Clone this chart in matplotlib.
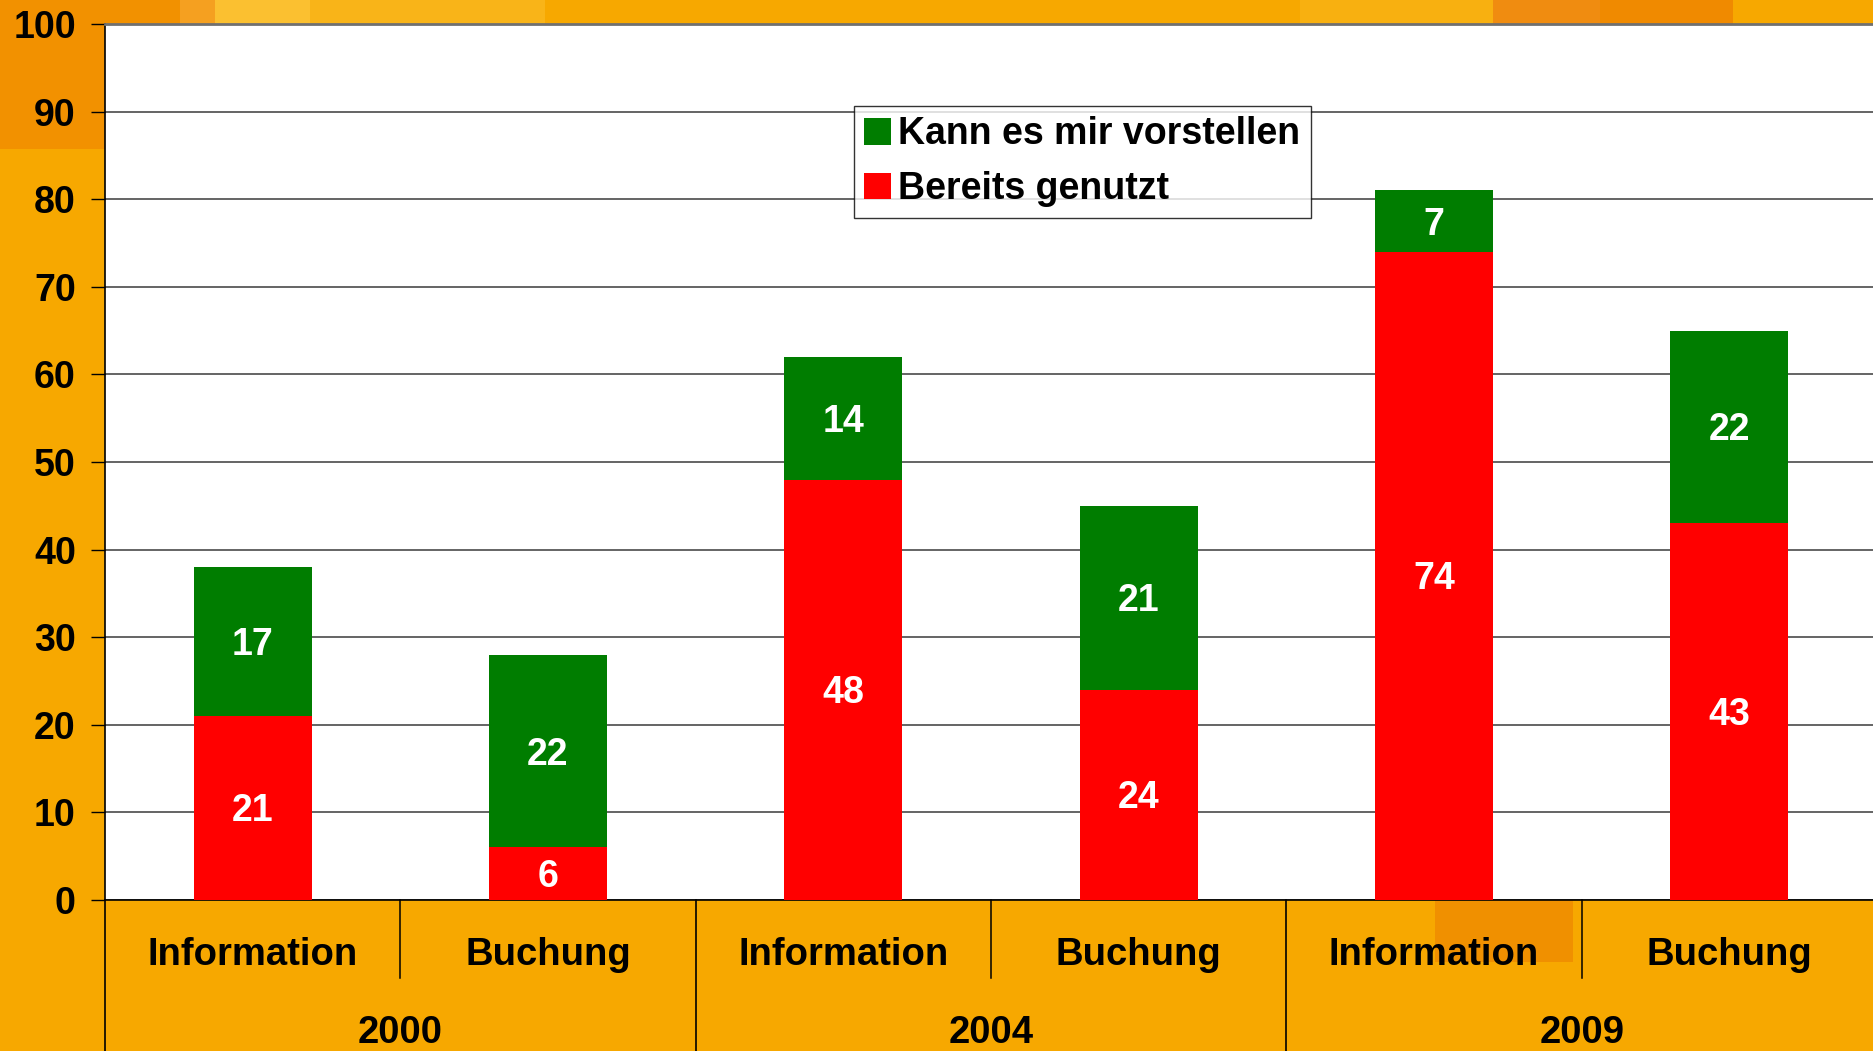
import matplotlib
matplotlib.use("Agg")
import matplotlib.pyplot as plt
from matplotlib.patches import Rectangle, Patch
from matplotlib.transforms import blended_transform_factory

years = ["2000", "2004", "2009"]
kinds = ["Information", "Buchung"]
categories = ["Information", "Buchung", "Information", "Buchung", "Information", "Buchung"]
bereits_genutzt = [21, 6, 48, 24, 74, 43]
kann_vorstellen = [17, 22, 14, 21, 7, 22]
y_ticks = [0, 10, 20, 30, 40, 50, 60, 70, 80, 90, 100]

RED = "#FF0000"
GREEN = "#007D00"
BG = "#F7A800"

plt.rcParams["font.family"] = ["Liberation Sans", "DejaVu Sans"]
plt.rcParams["font.weight"] = "bold"

W, H = 1874, 1051
fig = plt.figure(figsize=(W / 100, H / 100), dpi=100, facecolor=BG)

# decorative background patches (figure pixel coords, top-left origin)
def bgrect(x0, y0, x1, y1, color):
    fig.patches.append(Rectangle((x0 / W, 1 - y1 / H), (x1 - x0) / W, (y1 - y0) / H,
                                 transform=fig.transFigure, color=color, zorder=-10, lw=0))

bgrect(0, 0, 105, 149, "#F29100")
bgrect(0, 0, 180, 24, "#F29100")
bgrect(180, 0, 215, 24, "#F5A020")
bgrect(215, 0, 310, 24, "#FBC030")
bgrect(310, 0, 545, 24, "#F9B418")
bgrect(1300, 0, 1493, 24, "#F8B010")
bgrect(1493, 0, 1600, 24, "#F08C10")
bgrect(1600, 0, 1733, 24, "#F08A00")
bgrect(1435, 900, 1573, 962, "#F09000")

left, top, bottom = 105, 24, 900
right = 1877
ax = fig.add_axes([left / W, 1 - bottom / H, (right - left) / W, (bottom - top) / H])
ax.set_facecolor("white")

x = list(range(len(categories)))
bw = 0.40
ax.bar(x, bereits_genutzt, bw, color=RED, zorder=3, label="Bereits genutzt")
ax.bar(x, kann_vorstellen, bw, bottom=bereits_genutzt, color=GREEN, zorder=3,
       label="Kann es mir vorstellen")

for i in x:
    r, g = bereits_genutzt[i], kann_vorstellen[i]
    ax.annotate(str(r), (i, r / 2), xytext=(0, -2.5), textcoords="offset points",
                ha="center", va="center", color="white",
                fontsize=27, fontweight="bold", zorder=4)
    ax.annotate(str(g), (i, r + g / 2), xytext=(0, -2.5), textcoords="offset points",
                ha="center", va="center", color="white",
                fontsize=27, fontweight="bold", zorder=4)

ax.set_xlim(-0.5, 5.5)
ax.set_ylim(0, 100)
ax.set_yticks(y_ticks)
ax.set_yticklabels([str(t) for t in y_ticks], fontsize=27, fontweight="bold")
ax.tick_params(axis="y", length=10, width=1, pad=11, color="black")
ax.set_xticks([])
ax.yaxis.grid(True, color="#3a3a3a", lw=1.1, zorder=1)
ax.set_axisbelow(True)

ax.spines["right"].set_visible(False)
ax.spines["top"].set_color("#707070")
ax.spines["top"].set_linewidth(2)
ax.spines["left"].set_color("black")
ax.spines["left"].set_linewidth(1.2)
ax.spines["bottom"].set_color("black")
ax.spines["bottom"].set_linewidth(1.2)

# category axis labels below the plot
trans = blended_transform_factory(ax.transData, fig.transFigure)
for i, c in enumerate(categories):
    ax.text(i, 1 - 955 / H, c, transform=trans, ha="center", va="center",
            fontsize=27.5, fontweight="bold", clip_on=False)
for j, yname in enumerate(years):
    ax.text(2 * j + 0.5, 1 - 1033 / H, yname, transform=trans, ha="center", va="center",
            fontsize=27.5, fontweight="bold", clip_on=False)

# separators
for xs in [0.5, 2.5, 4.5]:
    ax.plot([xs, xs], [1 - 900 / H, 1 - 978 / H], transform=trans, color="black",
            lw=1.1, clip_on=False)
for xs in [-0.5, 1.5, 3.5]:
    ax.plot([xs, xs], [1 - 900 / H, 0], transform=trans, color="black",
            lw=1.2, clip_on=False)

handles = [Patch(facecolor=GREEN, label="Kann es mir vorstellen"),
           Patch(facecolor=RED, label="Bereits genutzt")]
leg = fig.legend(handles=handles, loc="upper left",
                 bbox_to_anchor=(854 / W, 1 - 106 / H), bbox_transform=fig.transFigure,
                 prop={"size": 27, "weight": "bold"}, frameon=True, fancybox=False,
                 borderaxespad=0, handlelength=0.7, handleheight=0.7,
                 handletextpad=0.2, labelspacing=0.5, borderpad=0.28)
leg.get_frame().set_edgecolor("black")
leg.get_frame().set_linewidth(1.0)
leg.set_zorder(10)

fig.savefig("out.png", dpi=100, facecolor=BG)
